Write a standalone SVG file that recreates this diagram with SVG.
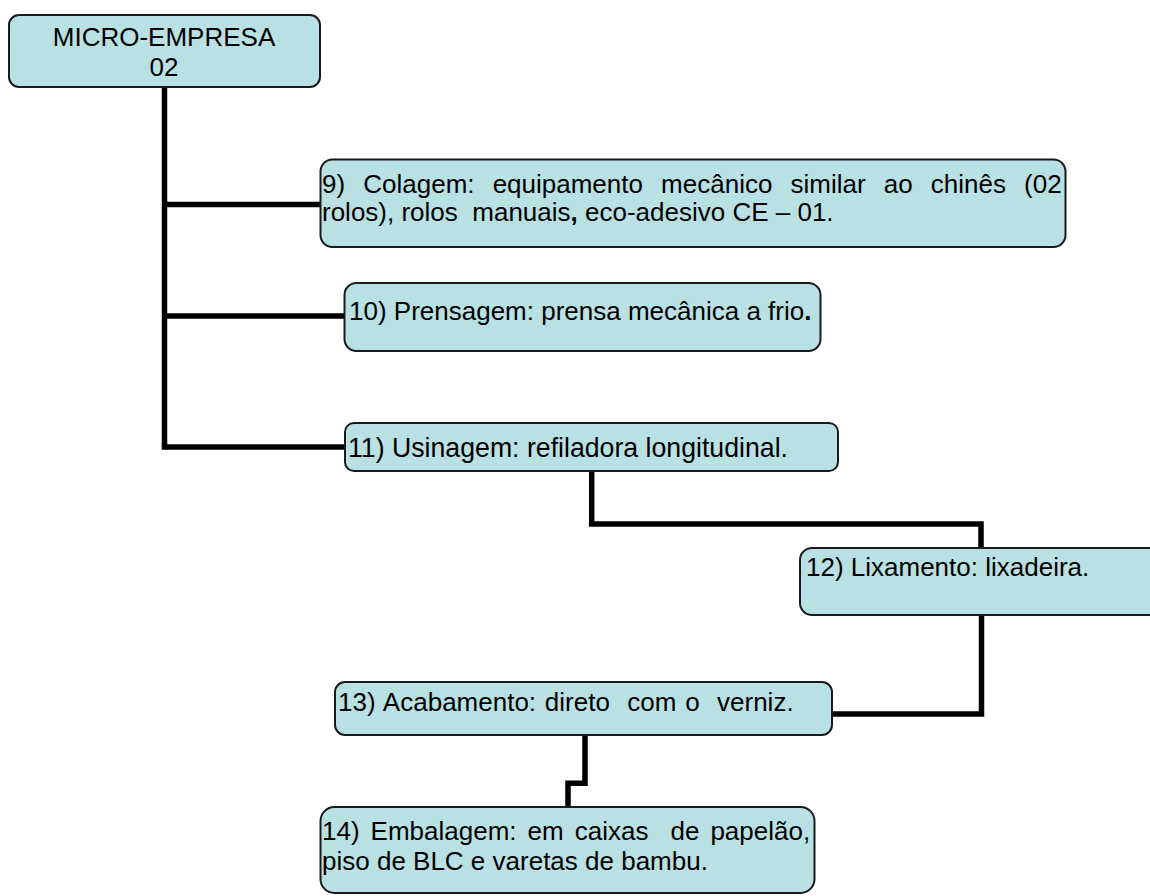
<svg xmlns="http://www.w3.org/2000/svg" width="1150" height="896" viewBox="0 0 1150 896">
<style>
.box{fill:#b9e1e4;stroke:#1a1a1a;stroke-width:2}
.t{font-family:"Liberation Sans",Arial,sans-serif;font-size:26px;fill:#000;white-space:pre}
.c{fill:none;stroke:#000;stroke-width:5.5;stroke-linejoin:miter;stroke-linecap:butt}
</style>
<rect width="1150" height="896" fill="#fff"/>
<g id="connectors">
<path class="c" d="M164.5,87 V447"/>
<path class="c" d="M164.5,204.5 H320"/>
<path class="c" d="M164.5,316 H345"/>
<path class="c" d="M164.5,444.5 V447 H345"/>
<path class="c" d="M591.7,471 V524 H981 V548"/>
<path class="c" d="M981.5,615 V714 H832"/>
<path class="c" d="M585,735 V783.3 H568 V807"/>
</g>
<g id="n1">
<rect class="box" x="9" y="15" width="311" height="72" rx="10"/>
<text class="t" x="164" y="46" text-anchor="middle">MICRO-EMPRESA</text>
<text class="t" x="164" y="76" text-anchor="middle">02</text>
</g>
<g id="n9">
<rect class="box" x="320.5" y="159.5" width="745" height="87.5" rx="12"/>
<text class="t" x="322" y="193" style="word-spacing:10.9px">9) Colagem: equipamento mecânico similar ao chinês (02</text>
<text class="t" x="322" y="221">rolos), rolos  manuais<tspan font-weight="bold">,</tspan> eco-adesivo CE – 01.</text>
</g>
<g id="n10">
<rect class="box" x="344.5" y="283" width="476" height="68" rx="12"/>
<text class="t" x="349" y="320">10) Prensagem: prensa mecânica a frio<tspan font-weight="bold">.</tspan></text>
</g>
<g id="n11">
<rect class="box" x="345" y="423" width="493" height="48" rx="9"/>
<text class="t" x="348" y="457" style="font-size:28px" textLength="440" lengthAdjust="spacingAndGlyphs">11) Usinagem: refiladora longitudinal.</text>
</g>
<g id="n12">
<rect class="box" x="800" y="548" width="380" height="67" rx="12"/>
<text class="t" x="806" y="576">12) Lixamento: lixadeira.</text>
</g>
<g id="n13">
<rect class="box" x="335" y="682" width="497" height="53" rx="10"/>
<text class="t" x="338" y="711" style="word-spacing:1.5px">13) Acabamento: direto  com o  verniz.</text>
</g>
<g id="n14">
<rect class="box" x="320.5" y="807" width="494" height="86" rx="14"/>
<text class="t" x="322" y="840" style="word-spacing:3.8px">14) Embalagem: em caixas  de papelão,</text>
<text class="t" x="322" y="870">piso de BLC e varetas de bambu.</text>
</g>
</svg>
